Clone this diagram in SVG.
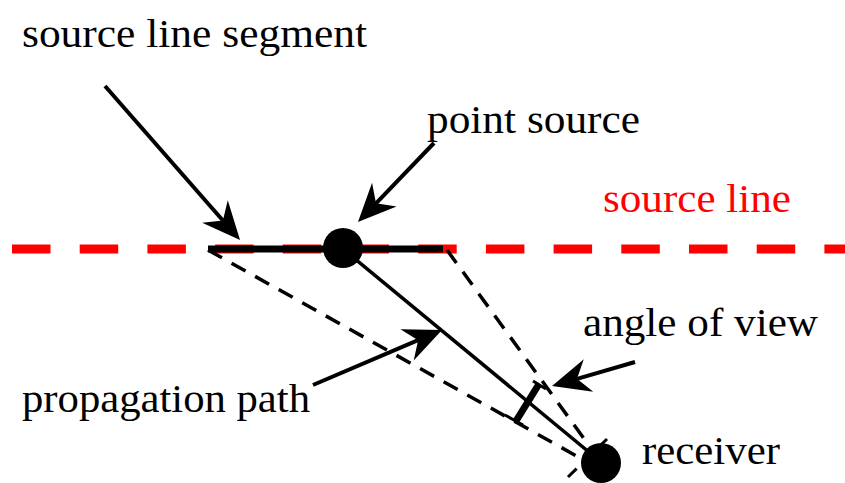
<svg xmlns="http://www.w3.org/2000/svg" width="845" height="483" viewBox="0 0 845 483">
<style>
text{font-family:'Liberation Serif','Times New Roman',serif;font-size:40px;fill:#000}
.red{fill:#ff0000}
.arr{stroke:#000;stroke-width:4;fill:none}
.dash{stroke:#000;stroke-width:3.5;fill:none;stroke-dasharray:16 11}
</style>
<defs>
<marker id="ah" markerUnits="userSpaceOnUse" markerWidth="60" markerHeight="60" refX="0" refY="0" orient="auto" overflow="visible">
<path d="M26,0 L-12,-17 L0,0 L-12,17 Z" fill="#000"/>
</marker>
</defs>
<g id="source-line">
<line x1="12" y1="249" x2="845" y2="249" stroke="#ff0000" stroke-width="9" stroke-dasharray="38.5 29.2"/>
</g>
<g id="connectors">
<line class="dash" x1="208" y1="250" x2="598" y2="468"/>
<line class="dash" x1="447" y1="250" x2="601" y2="462"/>
<line x1="343" y1="249" x2="601" y2="462" stroke="#000" stroke-width="3.5"/>
<line x1="539" y1="384" x2="516" y2="421" stroke="#000" stroke-width="7"/>
<line x1="505" y1="415" x2="523" y2="425" stroke="#000" stroke-width="3"/>
<line x1="533" y1="381" x2="546" y2="389" stroke="#000" stroke-width="3"/>
<line x1="568" y1="477" x2="607" y2="439" stroke="#000" stroke-width="3" stroke-dasharray="12 10"/>
<line class="arr" x1="105" y1="86" x2="222.9" y2="220.5" marker-end="url(#ah)"/>
<line class="arr" x1="434" y1="143" x2="376" y2="203.3" marker-end="url(#ah)"/>
<line class="arr" x1="313" y1="385" x2="418.1" y2="340.2" marker-end="url(#ah)"/>
<line class="arr" x1="635" y1="362" x2="577" y2="378.8" marker-end="url(#ah)"/>
</g>
<g id="source-segment">
<line x1="208" y1="249" x2="443" y2="249" stroke="#000" stroke-width="7"/>
</g>
<g id="point-source">
<circle cx="343" cy="248" r="20" fill="#000"/>
</g>
<g id="receiver">
<circle cx="601" cy="463" r="20" fill="#000"/>
</g>
<g id="labels">
<text x="22" y="47" textLength="345" lengthAdjust="spacingAndGlyphs">source line segment</text>
<text x="427" y="133" textLength="213" lengthAdjust="spacingAndGlyphs">point source</text>
<text class="red" x="603" y="212" textLength="188" lengthAdjust="spacingAndGlyphs">source line</text>
<text x="583" y="336" textLength="235" lengthAdjust="spacingAndGlyphs">angle of view</text>
<text x="22" y="412" textLength="288" lengthAdjust="spacingAndGlyphs">propagation path</text>
<text x="642" y="464" textLength="138" lengthAdjust="spacingAndGlyphs">receiver</text>
</g>
</svg>
